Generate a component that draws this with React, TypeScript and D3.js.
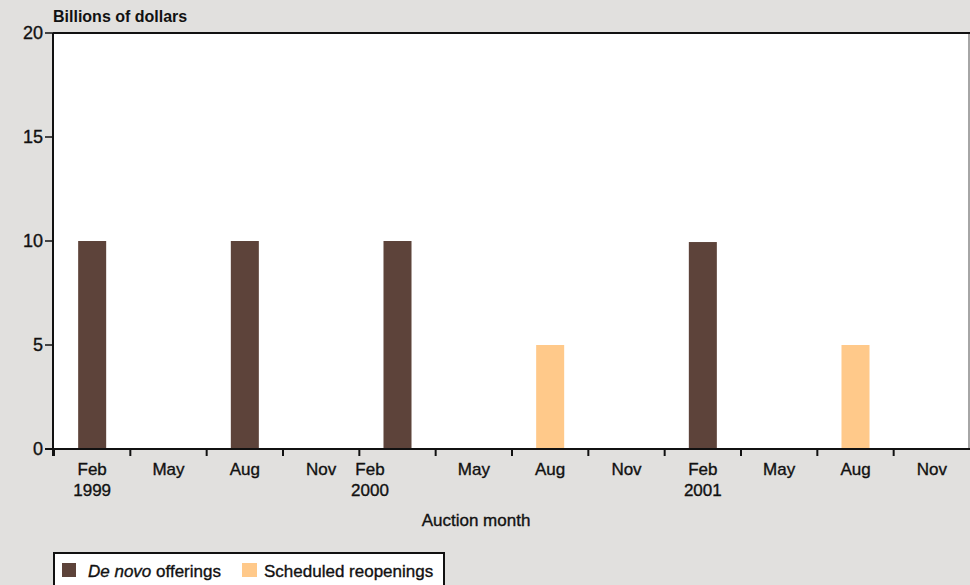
import React from "react";
import * as d3 from "d3";

const monthLabels = ["Feb", "May", "Aug", "Nov", "Feb", "May", "Aug", "Nov", "Feb", "May", "Aug", "Nov"];
const yearLabels = ["1999", "", "", "", "2000", "", "", "", "2001", "", "", ""];
const deNovo = [10, 0, 10, 0, 10, 0, 0, 0, 9.95, 0, 0, 0];
const reopenings = [0, 0, 0, 0, 0, 0, 5, 0, 0, 0, 5, 0];
const yTicks = [0, 5, 10, 15, 20];

const W = 970;
const H = 585;
const BG = "#e1e0de";
const DARK = "#5d433a";
const LIGHT = "#ffc98a";
const FONT = "'Liberation Sans', Arial, sans-serif";
const TXT = { fill: "#111", stroke: "#111", strokeWidth: 0.35 };

export default function App() {
  const left = 53;
  const right = 970;
  const top = 33;
  const bottom = 449;
  const idx = monthLabels.map((_, i) => i);
  const p = 0.633;
  const x = d3.scaleBand<number>().domain(idx).range([54, right]).paddingInner(p).paddingOuter(p / 2);
  const y = d3.scaleLinear().domain([0, 20]).range([bottom, top]);
  const step = x.step();
  const bw = x.bandwidth();
  const tickX = (i: number) => (x(i) as number) - (step * p) / 2;

  return (
    <svg width={W} height={H} style={{ position: "absolute", left: 0, top: 0, background: BG }} fontFamily={FONT}>
      <rect x={0} y={0} width={W} height={H} fill={BG} />
      <text x={53} y={22} fontSize={16} fontWeight="bold" fill="#111">Billions of dollars</text>
      <rect x={left} y={top} width={right - left} height={bottom - top} fill="#fff" />
      <line x1={969} x2={969} y1={top} y2={bottom} stroke="#888" strokeWidth={1.5} />
      {idx.map((i) => (
        <g key={"b" + i}>
          {deNovo[i] > 0 && (
            <rect x={x(i)} y={y(deNovo[i])} width={bw} height={y(0) - y(deNovo[i])} fill={DARK} />
          )}
          {reopenings[i] > 0 && (
            <rect x={x(i)} y={y(deNovo[i] + reopenings[i])} width={bw} height={y(0) - y(reopenings[i])} fill={LIGHT} />
          )}
        </g>
      ))}
      <line x1={left} x2={right} y1={top} y2={top} stroke="#111" strokeWidth={2} />
      <line x1={left} x2={left} y1={top} y2={456} stroke="#111" strokeWidth={2} />
      <line x1={45} x2={right} y1={bottom} y2={bottom} stroke="#111" strokeWidth={2} />
      {yTicks.map((t) => (
        <g key={"y" + t}>
          <line x1={45} x2={left} y1={y(t)} y2={y(t)} stroke="#111" strokeWidth={1.5} />
          <text x={43} y={y(t) + 6} textAnchor="end" fontSize={18} {...TXT}>{t}</text>
        </g>
      ))}
      {idx.map((i) => {
        const cx = (x(i) as number) + bw / 2 + (i === 4 ? -step * 0.36 : 0);
        return (
          <g key={"x" + i}>
            <line x1={tickX(i)} x2={tickX(i)} y1={bottom} y2={456} stroke="#111" strokeWidth={2} />
            <text x={cx} y={475} textAnchor="middle" fontSize={17} {...TXT}>{monthLabels[i]}</text>
            {yearLabels[i] && (
              <text x={cx} y={496} textAnchor="middle" fontSize={17} {...TXT}>{yearLabels[i]}</text>
            )}
          </g>
        );
      })}
      <text x={476} y={526} textAnchor="middle" fontSize={17} {...TXT}>Auction month</text>
      <rect x={54} y={553} width={390} height={40} fill="#fff" stroke="#111" strokeWidth={2} />
      <rect x={62} y={563} width={14} height={14} fill={DARK} />
      <text x={88} y={577} fontSize={17} {...TXT}>
        <tspan fontStyle="italic">De novo</tspan> offerings
      </text>
      <rect x={242} y={563} width={15} height={14} fill={LIGHT} />
      <text x={264} y={577} fontSize={17} {...TXT}>Scheduled reopenings</text>
    </svg>
  );
}
